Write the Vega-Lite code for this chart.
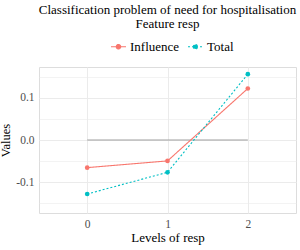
{
  "$schema": "https://vega.github.io/schema/vega-lite/v6.json",
  "width": 257,
  "height": 146,
  "autosize": "none",
  "padding": {"left": 39, "top": 67, "right": 4, "bottom": 37},
  "background": "white",
  "config": {"font": "Liberation Serif"},
  "title": {
    "text": ["Classification problem of need for hospitalisation", "Feature resp"],
    "anchor": "middle",
    "font": "Liberation Serif",
    "fontSize": 13,
    "fontWeight": "normal",
    "color": "black",
    "lineHeight": 14,
    "offset": 7
  },
  "datasets": {
    "series": [
      {"series": "Influence", "level": 0, "value": -0.0655},
      {"series": "Influence", "level": 1, "value": -0.0496},
      {"series": "Influence", "level": 2, "value": 0.122},
      {"series": "Total", "level": 0, "value": -0.128},
      {"series": "Total", "level": 1, "value": -0.0765},
      {"series": "Total", "level": 2, "value": 0.156}
    ],
    "zero": [
      {"level": 0, "value": 0},
      {"level": 1, "value": 0},
      {"level": 2, "value": 0}
    ]
  },
  "encoding": {
    "x": {
      "field": "level",
      "type": "quantitative",
      "scale": {"domain": [-0.6, 2.6], "nice": false, "zero": false},
      "axis": {
        "title": "Levels of resp",
        "values": [0, 1, 2],
        "format": "d",
        "domain": false,
        "ticks": false,
        "grid": true,
        "gridColor": "#EBEBEB",
        "gridWidth": 1,
        "labelFont": "Liberation Serif",
        "labelFontSize": 11.5,
        "labelColor": "#4D4D4D",
        "labelPadding": 5,
        "titleFont": "Liberation Serif",
        "titleFontSize": 13,
        "titleFontWeight": "normal",
        "titleColor": "black",
        "titlePadding": 2
      }
    },
    "y": {
      "field": "value",
      "type": "quantitative",
      "scale": {"domain": [-0.173, 0.173], "nice": false, "zero": false},
      "axis": {
        "title": "Values",
        "values": [-0.15, -0.1, -0.05, 0, 0.05, 0.1, 0.15],
        "labelExpr": "datum.value == 0.1 ? '0.1' : datum.value == -0.1 ? '-0.1' : datum.value == 0 ? '0.0' : ''",
        "domain": false,
        "ticks": false,
        "grid": true,
        "gridColor": "#EBEBEB",
        "gridWidth": {"condition": {"test": "datum.value == 0.1 || datum.value == -0.1 || datum.value == 0", "value": 1}, "value": 0.6},
        "labelFont": "Liberation Serif",
        "labelFontSize": 11.5,
        "labelColor": "#4D4D4D",
        "labelPadding": 5,
        "titleFont": "Liberation Serif",
        "titleFontSize": 12.5,
        "titleFontWeight": "normal",
        "titleColor": "black",
        "titlePadding": 3
      }
    }
  },
  "layer": [
    {
      "data": {"name": "zero"},
      "mark": {"type": "line", "color": "#A0A0A0", "strokeWidth": 1.1},
      "encoding": {}
    },
    {
      "data": {"name": "series"},
      "mark": {"type": "line", "strokeWidth": 1.1},
      "encoding": {
        "color": {
          "field": "series",
          "type": "nominal",
          "scale": {"domain": ["Influence", "Total"], "range": ["#F8766D", "#00BFC4"]},
          "legend": {
            "title": null,
            "orient": "none",
            "legendX": 71,
            "legendY": -29,
            "direction": "horizontal",
            "labelFont": "Liberation Serif",
            "labelFontSize": 13,
            "labelColor": "black",
            "symbolType": "M-1,0L1,0M-0.3,0A0.3,0.3,0,1,0,0.3,0A0.3,0.3,0,1,0,-0.3,0Z",
            "symbolSize": 225,
            "symbolStrokeWidth": 1.1,
            "columnPadding": 5,
            "labelOffset": 3,
            "encode": {"symbols": {"update": {"fill": {"scale": "color", "field": "value"}, "stroke": {"scale": "color", "field": "value"}}}}
          }
        },
        "strokeDash": {
          "field": "series",
          "type": "nominal",
          "scale": {"domain": ["Influence", "Total"], "range": [[1, 0], [2, 2]]},
          "legend": null
        }
      }
    },
    {
      "data": {"name": "series"},
      "mark": {"type": "circle", "size": 22, "opacity": 1},
      "encoding": {
        "color": {"field": "series", "type": "nominal", "legend": null}
      }
    }
  ]
}
